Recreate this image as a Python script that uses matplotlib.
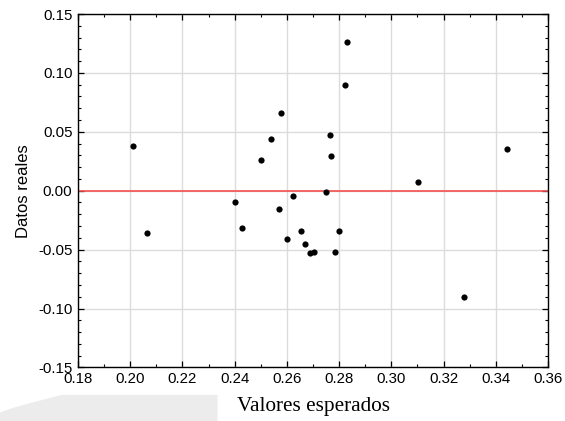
import numpy as np
import matplotlib.pyplot as plt
from matplotlib.patches import Polygon
from matplotlib.ticker import MultipleLocator

# --- Data ---
esperados = [0.2010, 0.2064, 0.2576, 0.2541, 0.2501, 0.2764, 0.2767, 0.2751,
             0.2625, 0.2403, 0.2569, 0.2430, 0.2653, 0.2800, 0.2601, 0.2668,
             0.2688, 0.2704, 0.2783, 0.3101, 0.3280, 0.3443, 0.2832, 0.2824]
reales = [0.0377, -0.0359, 0.0657, 0.0439, 0.0263, 0.0476, 0.0297, -0.0008,
          -0.0045, -0.0096, -0.0158, -0.0314, -0.0342, -0.0342, -0.0410, -0.0455,
          -0.0526, -0.0518, -0.0518, 0.0071, -0.0902, 0.0357, 0.1262, 0.0895]

x_ticks = [0.18, 0.20, 0.22, 0.24, 0.26, 0.28, 0.30, 0.32, 0.34, 0.36]
y_ticks = [-0.15, -0.10, -0.05, 0.00, 0.05, 0.10, 0.15]

plt.rcParams['font.family'] = ['Liberation Sans', 'DejaVu Sans']

fig = plt.figure(figsize=(5.65, 4.21), dpi=100)

# faint grey smear in the lower-left corner of the original scan
fig.patches.append(Polygon([(0.0, 0.0), (0.385, 0.0), (0.385, 0.062), (0.11, 0.062),
                            (0.06, 0.045), (0.02, 0.03), (0.0, 0.02)],
                           closed=True, transform=fig.transFigure,
                           facecolor='#ececec', edgecolor='none', zorder=0))

ax = fig.add_axes([0.138, 0.1273, 0.832, 0.8394])

ax.grid(True, color='#dcdcdc', linewidth=1.0, zorder=0)
ax.axhline(0, color='#f24f4f', linewidth=1.2, zorder=2)
ax.scatter(esperados, reales, s=20, color='black', zorder=3, linewidths=0)

ax.set_xlim(0.18, 0.36)
ax.set_ylim(-0.15, 0.15)
ax.set_xticks(x_ticks)
ax.set_yticks(y_ticks)
ax.set_xticklabels([f'{v:.2f}' for v in x_ticks])
ax.set_yticklabels([f'{v:.2f}' for v in y_ticks])
ax.xaxis.set_minor_locator(MultipleLocator(0.01))
ax.yaxis.set_minor_locator(MultipleLocator(0.01))

ax.tick_params(which='both', direction='in', top=True, right=True,
               labelsize=10.8, colors='black')
ax.tick_params(which='major', length=4, width=0.9)
ax.tick_params(which='minor', length=2.5, width=0.8)
ax.tick_params(axis='x', which='major', pad=3.5)
ax.tick_params(axis='y', which='major', pad=4)
for sp in ax.spines.values():
    sp.set_linewidth(1.0)
    sp.set_color('black')

ax.set_ylabel('Datos reales', fontsize=12, labelpad=5)
ax.set_xlabel('Valores esperados', fontsize=15.3, family=['Liberation Serif', 'DejaVu Serif'],
              labelpad=8)

fig.savefig('out.png', dpi=100)
